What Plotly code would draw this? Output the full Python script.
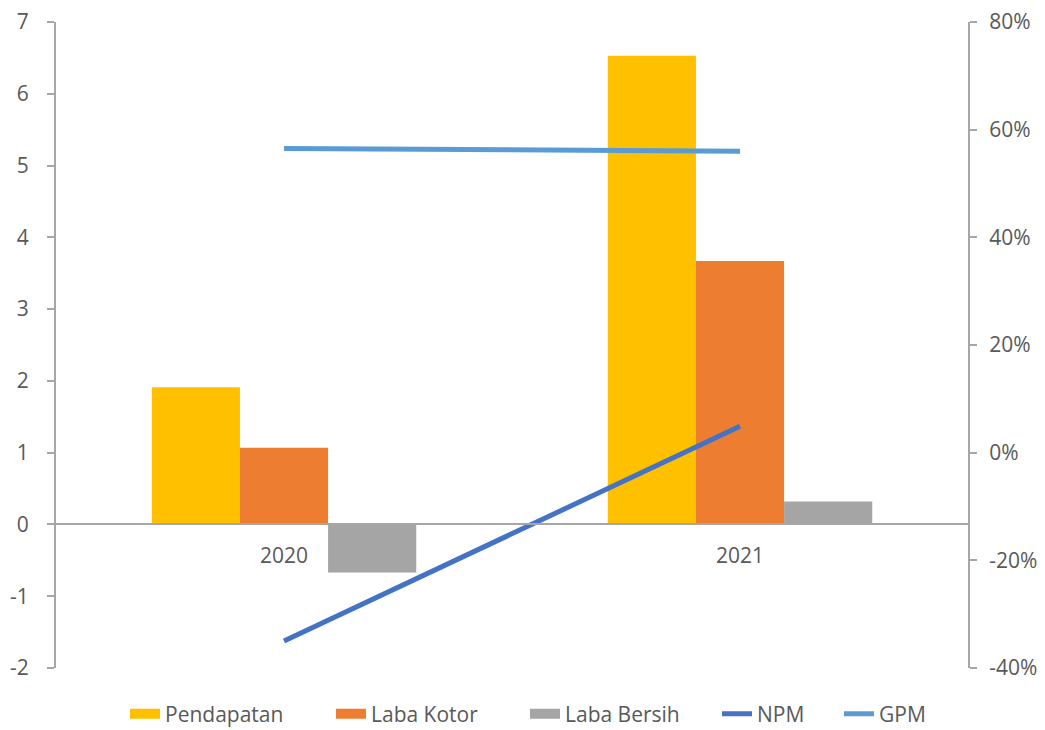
import plotly.graph_objects as go

years = ["2020", "2021"]
pendapatan = [1.91, 6.53]
laba_kotor = [1.07, 3.67]
laba_bersih = [-0.67, 0.32]
npm = [-0.35, 0.049]
gpm = [0.565, 0.56]

left_tickvals = [-2, -1, 0, 1, 2, 3, 4, 5, 6, 7]
left_ticktext = ["-2", "-1", "0", "1", "2", "3", "4", "5", "6", "7"]
right_tickvals = [-0.4, -0.2, 0, 0.2, 0.4, 0.6, 0.8]
right_ticktext = ["-40%", "-20%", "0%", "20%", "40%", "60%", "80%"]

font_fam = "Open Sans, Liberation Sans, sans-serif"
gray_txt = "#595959"
axis_col = "#A6A6A6"
fs = 21

W, H = 1045, 730
L, R, T, B = 56, 77, 22, 62
plot_w = W - L - R
plot_h = H - T - B

bar_colors = {"Pendapatan": "#FFC000", "Laba Kotor": "#ED7D31", "Laba Bersih": "#A5A5A5"}
bar_data = {"Pendapatan": pendapatan, "Laba Kotor": laba_kotor, "Laba Bersih": laba_bersih}
# pixel x of each legend entry's left edge
legend_px = {"Pendapatan": 125, "Laba Kotor": 331, "Laba Bersih": 525, "NPM": 717, "GPM": 839}
legend_ids = {"Pendapatan": "legend", "Laba Kotor": "legend2", "Laba Bersih": "legend3",
              "NPM": "legend4", "GPM": "legend5"}
legend_center_py = 714

fig = go.Figure()
for name, vals in bar_data.items():
    fig.add_bar(x=years, y=vals, name=name, marker_color=bar_colors[name],
                marker_line_width=0, showlegend=False, legendgroup=name)
for name in bar_data:
    fig.add_scatter(x=[None], y=[None], name=name, mode="lines", legendgroup=name,
                    legend=legend_ids[name], line=dict(color=bar_colors[name], width=14))
fig.add_scatter(x=years, y=npm, name="NPM", mode="lines", yaxis="y2", legend=legend_ids["NPM"],
                line=dict(color="#4472C4", width=5))
fig.add_scatter(x=years, y=gpm, name="GPM", mode="lines", yaxis="y2", legend=legend_ids["GPM"],
                line=dict(color="#5B9BD5", width=5))

ymin, ymax = -2, 7
legend_layout = {}
for name, lid in legend_ids.items():
    legend_layout[lid] = dict(orientation="h", x=(legend_px[name] - L) / plot_w, xanchor="left",
                              y=-(legend_center_py - (T + plot_h)) / plot_h, yanchor="middle",
                              font=dict(size=fs, color=gray_txt),
                              itemwidth=30, bgcolor="rgba(0,0,0,0)")

fig.update_layout(
    width=W, height=H,
    margin=dict(l=L, r=R, t=T, b=B, autoexpand=False),
    paper_bgcolor="white", plot_bgcolor="white",
    font=dict(family=font_fam, size=fs, color=gray_txt),
    barmode="group", bargap=0.42, bargroupgap=0,
    showlegend=True,
    xaxis=dict(anchor="free", position=(0 - ymin) / (ymax - ymin),
               showline=True, linecolor=axis_col, linewidth=2, automargin=False,
               showgrid=False, ticks="", tickfont=dict(size=fs, color=gray_txt),
               ticklabelstandoff=12),
    yaxis=dict(range=[ymin, ymax], tickmode="array", tickvals=left_tickvals,
               ticktext=left_ticktext, showgrid=False, zeroline=False, automargin=False,
               showline=True, linecolor=axis_col, linewidth=2,
               ticks="outside", ticklen=7, tickwidth=2, tickcolor=axis_col,
               tickfont=dict(size=fs, color=gray_txt), ticklabelstandoff=14),
    yaxis2=dict(range=[-0.4, 0.8], tickmode="array", tickvals=right_tickvals,
                ticktext=right_ticktext, overlaying="y", automargin=False,
                side="right", showgrid=False, zeroline=False,
                showline=True, linecolor=axis_col, linewidth=2,
                ticks="outside", ticklen=7, tickwidth=2, tickcolor=axis_col,
                tickfont=dict(size=fs, color=gray_txt), ticklabelstandoff=8),
    **legend_layout,
)

fig.write_html("out.html", config={"displayModeBar": False},
               post_script="document.body.style.margin='0';document.body.style.overflow='hidden';")
